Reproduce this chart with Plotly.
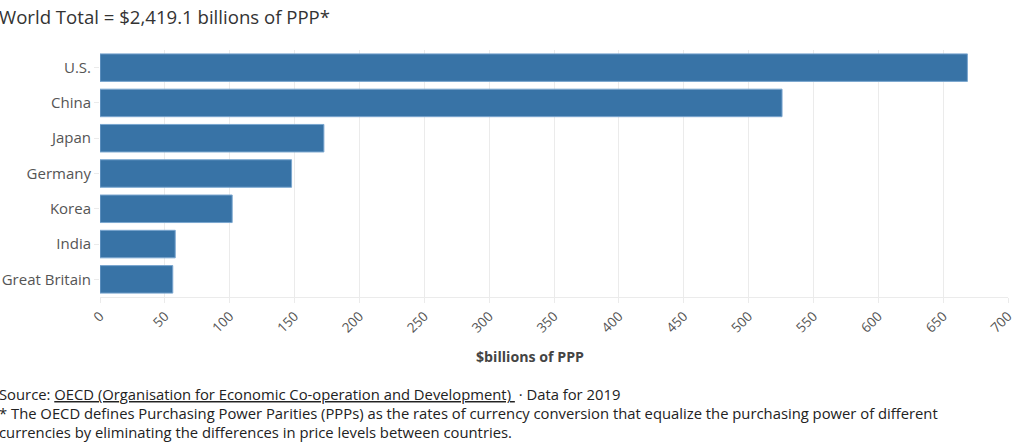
import plotly.graph_objects as go

countries = ["U.S.", "China", "Japan", "Germany", "Korea", "India", "Great Britain"]
values = [668.7, 525.8, 172.6, 147.7, 101.9, 58.0, 56.1]
x_ticks = list(range(0, 701, 50))

title_text = "World Total = $2,419.1 billions of PPP*"
axis_title = "$billions of PPP"
source_line = ("Source: <span style='text-decoration:underline'>OECD (Organisation for Economic "
               "Co-operation and Development) </span> · Data for 2019")
note_line1 = ("* The OECD defines Purchasing Power Parities (PPPs) as the rates of currency "
              "conversion that equalize the purchasing power of different")
note_line2 = "currencies by eliminating the differences in price levels between countries."

FONT = "Open Sans"
L, R, T, B = 100, 12, 50, 146
W, H = 1020, 443
PW, PH = W - L - R, H - T - B


def px_x(px):
    return (px - L) / PW


def px_y(py):
    return 1 - (py - T) / PH


fig = go.Figure()
fig.add_trace(go.Bar(
    y=countries, x=values, orientation="h",
    marker=dict(color="#3873a6", line=dict(color="#7aa6cf", width=1)),
))

fig.update_layout(
    width=W, height=H,
    margin=dict(l=L, r=R, t=T, b=B),
    paper_bgcolor="white", plot_bgcolor="white",
    font=dict(family=FONT, color="#555555", size=13),
    bargap=0.22,
    showlegend=False,
    xaxis=dict(range=[0, 700], tickvals=x_ticks, tickangle=-45, automargin=False,
               showgrid=True, gridcolor="#ebebeb", gridwidth=1,
               zeroline=False, showline=True, linecolor="#ebebeb",
               ticks="outside", ticklen=5, tickcolor="#ebebeb",
               tickfont=dict(size=13.5, color="#555555")),
    yaxis=dict(autorange="reversed", showgrid=False, zeroline=False, automargin=False,
               ticks="outside", ticklen=5, tickcolor="#ebebeb",
               tickfont=dict(size=15, color="#555555")),
    annotations=[
        dict(text=title_text, xref="paper", yref="paper",
             x=px_x(-3), y=px_y(17), xanchor="left", yanchor="middle", showarrow=False,
             font=dict(size=18.6, color="#333333", family=FONT)),
        dict(text="<b>" + axis_title + "</b>", xref="paper", yref="paper",
             x=px_x(530), y=px_y(356), xanchor="center", yanchor="middle",
             showarrow=False, font=dict(size=14.2, color="#444444", family=FONT)),
        dict(text=source_line + "<br>" + note_line1 + "<br>" + note_line2,
             xref="paper", yref="paper", x=px_x(-3), y=px_y(413),
             xanchor="left", yanchor="middle", align="left", showarrow=False,
             font=dict(size=14.8, color="#222222", family=FONT)),
    ],
)

fig.write_html("out.html", config={"displayModeBar": False},
               post_script="document.body.style.margin='0';")
